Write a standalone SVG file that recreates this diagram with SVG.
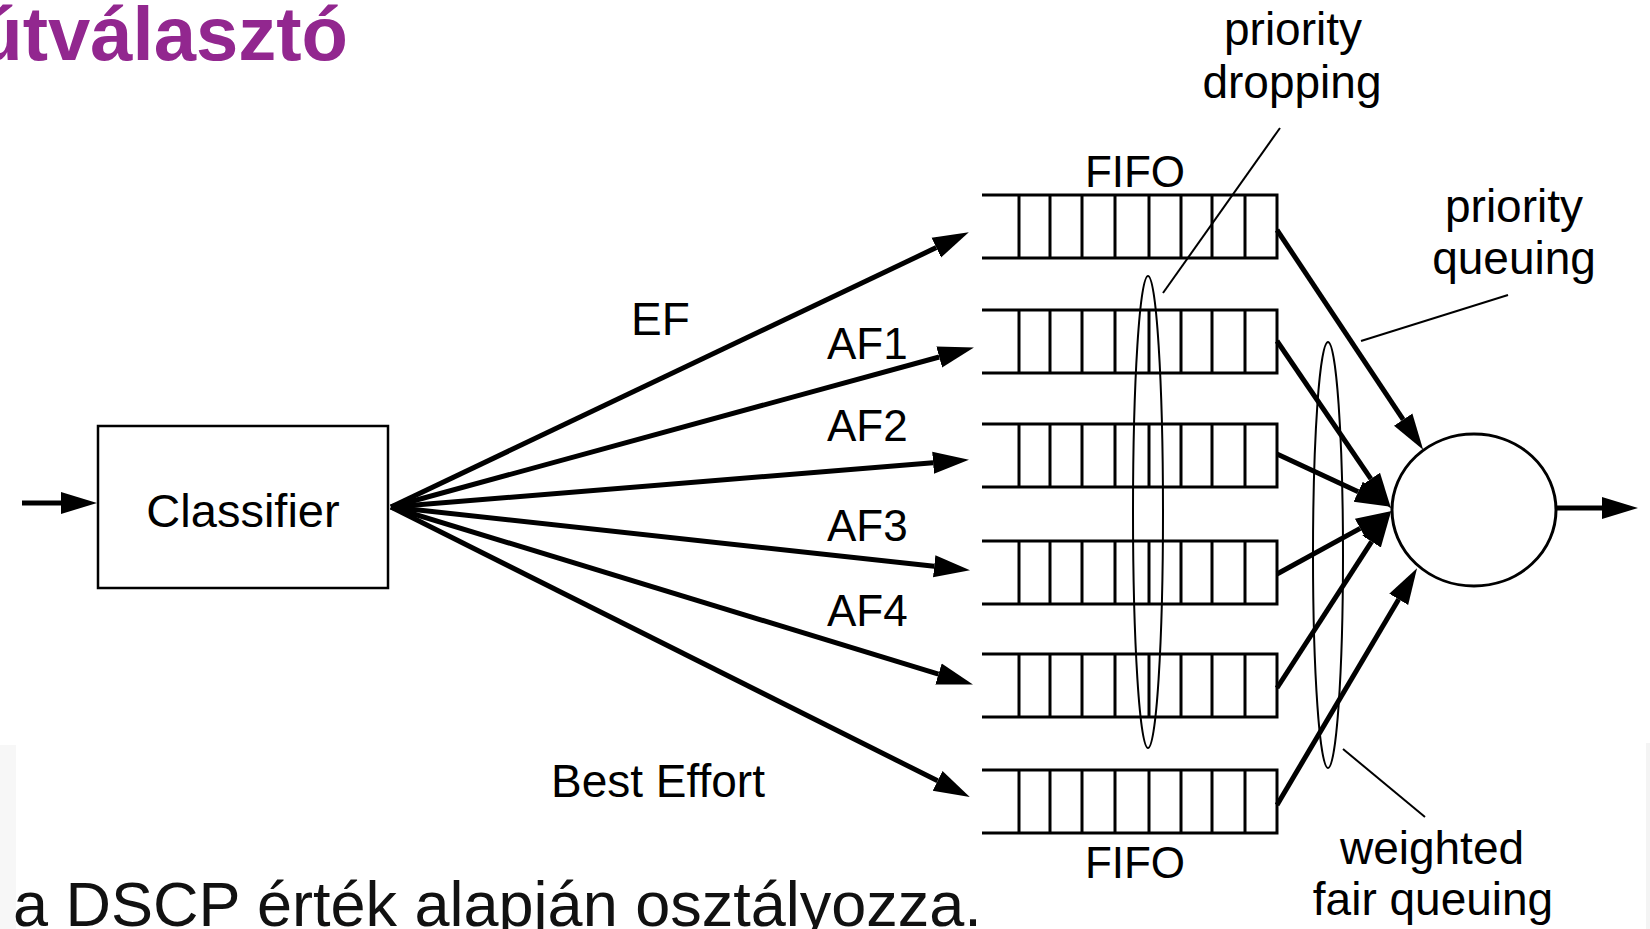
<svg xmlns="http://www.w3.org/2000/svg" xmlns:xlink="http://www.w3.org/1999/xlink" width="1650" height="929" viewBox="0 0 1650 929">
  <style>
    text { font-family: "Liberation Sans", Arial, Helvetica, sans-serif; fill: #000; }
    .lbl { font-size: 46px; }
    .af { font-size: 44px; }
    .fifo { font-size: 44px; text-anchor: middle; }
    .note { font-size: 46px; text-anchor: middle; }
    .title { font-size: 76px; font-weight: bold; fill: #92278f; text-anchor: end; }
    .body { font-size: 63px; fill: #111; }
    .arrow { fill: none; stroke: #000; stroke-width: 5; marker-end: url(#head); }
    .thin { fill: none; stroke: #000; stroke-width: 2; }
    .box { fill: #fff; stroke: #000; stroke-width: 2.5; }
    .q { fill: none; stroke: #000; stroke-width: 3; }
  </style>
  <defs>
    <marker id="head" markerUnits="userSpaceOnUse" markerWidth="40" markerHeight="26" viewBox="0 -13 40 26" refX="0" refY="0" orient="auto">
      <path d="M0,-11 L36,0 L0,11 z" fill="#000"/>
    </marker>
    <!-- a queue: open left end, eight slots, closed right end -->
    <path id="queue" class="q" d="M982,0 H1277 V63 H982 M1019,0 V63 M1050,0 V63 M1082,0 V63 M1115,0 V63 M1149,0 V63 M1181,0 V63 M1212,0 V63 M1245,0 V63"/>
  </defs>

  <rect width="1650" height="929" fill="#fff"/>
  <!-- faint slide edges -->
  <rect x="0" y="745" width="16" height="184" fill="#f7f7f7"/>
  <rect x="1646" y="743" width="4" height="186" fill="#f4f4f4"/>

  <text class="title" x="348" y="60">útválasztó</text>
  <text class="body" x="13" y="926">a DSCP érték alapján osztályozza.</text>

  <g id="classifier">
    <rect class="box" x="98" y="426" width="290" height="162"/>
    <text class="lbl" x="243" y="527" text-anchor="middle" style="font-size:47px">Classifier</text>
  </g>

  <g id="queue-ef"><use xlink:href="#queue" href="#queue" y="195"/></g>
  <g id="queue-af1"><use xlink:href="#queue" href="#queue" y="310"/></g>
  <g id="queue-af2"><use xlink:href="#queue" href="#queue" y="424"/></g>
  <g id="queue-af3"><use xlink:href="#queue" href="#queue" y="541"/></g>
  <g id="queue-af4"><use xlink:href="#queue" href="#queue" y="654"/></g>
  <g id="queue-be"><use xlink:href="#queue" href="#queue" y="770"/></g>

  <g id="scheduler">
    <ellipse cx="1474" cy="510" rx="82" ry="76" fill="#fff" stroke="#000" stroke-width="3"/>
  </g>

  <g id="groupings">
    <ellipse class="thin" cx="1148" cy="512" rx="15" ry="236"/>
    <ellipse class="thin" cx="1328" cy="555" rx="15" ry="213"/>
  </g>

  <g id="connectors">
    <!-- input and output -->
    <path class="arrow" d="M22,503 H61"/>
    <path class="arrow" d="M1556,508 H1602"/>
    <!-- classifier fan-out -->
    <path class="arrow" d="M391,507 L936.3,247.6"/>
    <path class="arrow" d="M391,507 L939.2,357"/>
    <path class="arrow" d="M391,507 L933.1,462.8"/>
    <path class="arrow" d="M391,507 L934.2,566.3"/>
    <path class="arrow" d="M391,507 L938.5,674.1"/>
    <path class="arrow" d="M391,507 L937.6,780.8"/>
    <!-- queues into scheduler -->
    <path class="arrow" d="M1277,230 L1403.2,419.7"/>
    <path class="arrow" d="M1277,341 L1370.9,478.9"/>
    <path class="arrow" d="M1277,454 L1358.2,491.7"/>
    <path class="arrow" d="M1277,574 L1360.2,528.4"/>
    <path class="arrow" d="M1277,688 L1371.6,541.6"/>
    <path class="arrow" d="M1277,805 L1398.7,599.3"/>
    <!-- annotation leaders -->
    <path class="thin" d="M1280,128 L1163,293"/>
    <path class="thin" d="M1508,295 L1361,341"/>
    <path class="thin" d="M1343,749 L1425,817"/>
  </g>

  <g id="labels">
    <text class="lbl" x="631" y="335">EF</text>
    <text class="af" x="827" y="359">AF1</text>
    <text class="af" x="827" y="441">AF2</text>
    <text class="af" x="827" y="541">AF3</text>
    <text class="af" x="827" y="626">AF4</text>
    <text class="lbl" x="551" y="797">Best Effort</text>
    <text class="fifo" x="1135" y="187">FIFO</text>
    <text class="fifo" x="1135" y="878">FIFO</text>
    <text class="note" x="1293" y="45">priority</text>
    <text class="note" x="1292" y="98">dropping</text>
    <text class="note" x="1514" y="222">priority</text>
    <text class="note" x="1514" y="274">queuing</text>
    <text class="note" x="1432" y="864">weighted</text>
    <text class="note" x="1433" y="915">fair queuing</text>
  </g>
</svg>
